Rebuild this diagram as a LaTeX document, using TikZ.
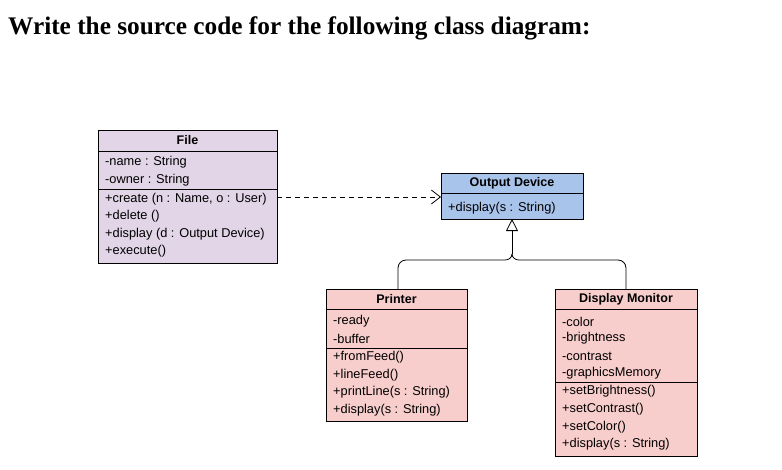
\documentclass[tikz,border=0pt]{standalone}
\usepackage{fontspec}
\setmainfont{Liberation Sans}
\newfontfamily\serifbf{Liberation Serif}
\usetikzlibrary{arrows.meta}
\definecolor{cpurple}{HTML}{E1D5E7}
\definecolor{cblue}{HTML}{A9C4EB}
\definecolor{cred}{HTML}{F8CECC}
\tikzset{
 box/.style={draw=black,line width=0.8pt,inner sep=0pt},
 ttl/.style={font=\fontsize{12.5}{12.5}\selectfont\bfseries,anchor=center},
 ln/.style={font=\fontsize{12.8}{12.8}\selectfont,anchor=west,inner sep=0pt,yshift=-1.5pt},
 conn/.style={draw=black,line width=0.8pt}
}
\begin{document}
\begin{tikzpicture}[x=1pt,y=-1pt]
\useasboundingbox (0,0) rectangle (782,469);
\node[anchor=west,inner sep=0pt,font=\serifbf\fontsize{25.3}{25.3}\selectfont\bfseries] (title) at (8,28) {Write the source code for the following class diagram:};
% File
\draw[box,fill=cpurple] (98,130) rectangle (277,263);
\draw[box] (98,151) -- (277,151) (98,189) -- (277,189);
\coordinate (fileR) at (277,197);
\node[ttl] (fileT) at (187.5,140) {File};
\node[ln] (f1) at (105,161) {-name : String};
\node[ln] (f2) at (105,179) {-owner : String};
\node[ln] (f3) at (105,198) {+create (n : Name, o : User)};
\node[ln] (f4) at (105,215) {+delete ()};
\node[ln] (f5) at (105,233) {+display (d : Output Device)};
\node[ln] (f6) at (105,250) {+execute()};
% Output device
\draw[box,fill=cblue] (441,173) rectangle (583,219);
\draw[box] (441,193) -- (583,193);
\coordinate (odL) at (441,197);
\coordinate (odB) at (512,219);
\node[ttl] (odT) at (512,183) {Output Device};
\node[ln] (o1) at (448,207) {+display(s : String)};
% Printer
\draw[box,fill=cred] (326,289) rectangle (467,421);
\draw[box] (326,309) -- (467,309) (326,348) -- (467,348);
\coordinate (prT) at (398,289);
\node[ttl] (prTitle) at (396.5,299) {Printer};
\node[ln] (p1) at (333,320) {-ready};
\node[ln] (p2) at (333,337) {-buffer};
\node[ln] (p3) at (333,356) {+fromFeed()};
\node[ln] (p4) at (333,374) {+lineFeed()};
\node[ln] (p5) at (333,391) {+printLine(s : String)};
\node[ln] (p6) at (333,409) {+display(s : String)};
% Display monitor
\draw[box,fill=cred] (555,289) rectangle (697,456);
\draw[box] (555,309) -- (697,309) (555,382) -- (697,382);
\coordinate (dmT) at (626,289);
\node[ttl] (dmTitle) at (626,299) {Display Monitor};
\node[ln] (d1) at (562,320) {-color};
\node[ln] (d2) at (562,337) {-brightness};
\node[ln] (d3) at (562,355) {-contrast};
\node[ln] (d4) at (562,372) {-graphicsMemory};
\node[ln] (d5) at (562,390) {+setBrightness()};
\node[ln] (d6) at (562,408) {+setContrast()};
\node[ln] (d7) at (562,426) {+setColor()};
\node[ln] (d8) at (562,443) {+display(s : String)};
% connectors
\draw[conn,dashed,dash pattern=on 5pt off 4pt,-{Straight Barb[length=9pt,width=14pt]}] (fileR) -- (odL);
\coordinate (j) at (512,254);
\draw[conn,-{Triangle[open,length=12pt,width=12pt,fill=white]}] (j) -- (odB);
\draw[conn] (prT) -- (398,268) to[out=90,in=180] (406,260) -- (505,260) to[out=0,in=270] (j);
\draw[conn] (dmT) -- (626,268) to[out=90,in=0] (618,260) -- (519,260) to[out=180,in=270] (j);
\end{tikzpicture}
\end{document}
